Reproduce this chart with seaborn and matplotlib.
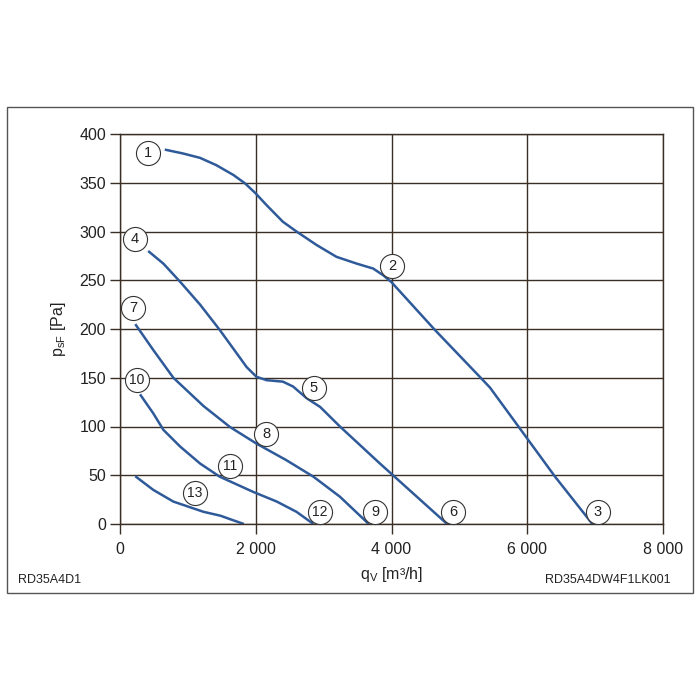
import matplotlib
matplotlib.use("Agg")
import matplotlib.pyplot as plt
import seaborn as sns
import pandas as pd
from matplotlib.patches import Rectangle
from matplotlib.ticker import FuncFormatter

sns.set_theme(style="white")
plt.rcParams['font.family'] = ['Liberation Sans', 'DejaVu Sans']
plt.rcParams['mathtext.fontset'] = 'custom'
plt.rcParams['mathtext.rm'] = 'Liberation Sans'

# --- data ---
curve_a_x = [660, 930, 1180, 1420, 1670, 1840, 2000, 2160, 2400, 2600, 2900, 3190, 3490, 3730, 3880, 4000,
             4640, 5300, 5450, 5870, 6410, 6960]
curve_a_y = [384, 380, 375.5, 368, 358, 349.5, 339, 327, 310, 300, 286, 274, 267, 262, 255, 248,
             199, 151, 140, 100, 48.5, 0]
curve_b_x = [415, 640, 885, 1180, 1470, 1720, 1865, 2010, 2160, 2400, 2550, 2750, 2950, 3240, 3830, 4820]
curve_b_y = [280, 267, 248.5, 225, 199, 175, 161, 151, 147.5, 146, 141, 129, 120, 100, 62, 0]
curve_c_x = [225, 490, 786, 1230, 1620, 2010, 2450, 2850, 3240, 3665]
curve_c_y = [205, 178.5, 150, 121, 99.5, 82.5, 65.5, 48.5, 28, 0]
curve_d_x = [295, 490, 640, 885, 1180, 1470, 1960, 2310, 2600, 2850]
curve_d_y = [133, 113.5, 96.5, 79.5, 62, 48.5, 33, 23, 12.5, 0]
curve_e_x = [225, 490, 786, 1230, 1480, 1620, 1825]
curve_e_y = [49, 35, 23, 12.5, 8.5, 5, 0]

label_text = ["1", "2", "3", "4", "5", "6", "7", "8", "9", "10", "11", "12", "13"]
label_x = [412, 4007, 7042, 221, 2858, 4906, 191, 2151, 3757, 250, 1621, 2947, 1105]
label_y = [380.5, 264.6, 12.3, 292, 139.5, 12.3, 221.5, 92.3, 12.3, 147.7, 59.5, 12.3, 31.8]

x_ticks = [0, 2000, 4000, 6000, 8000]
y_ticks = [0, 50, 100, 150, 200, 250, 300, 350, 400]

frames = []
for name, xs, ys in [("A", curve_a_x, curve_a_y), ("B", curve_b_x, curve_b_y),
                     ("C", curve_c_x, curve_c_y), ("D", curve_d_x, curve_d_y),
                     ("E", curve_e_x, curve_e_y)]:
    frames.append(pd.DataFrame({"q": xs, "p": ys, "curve": name}))
df = pd.concat(frames, ignore_index=True)

fig = plt.figure(figsize=(7, 7), dpi=100)
ax = fig.add_axes([120/700, 1-524/700, 543/700, 390/700])

grid_c = '#3b2e25'
line_c = '#2f5a9a'

sns.lineplot(data=df, x="q", y="p", units="curve", estimator=None, sort=False,
             color=line_c, lw=1.8, ax=ax, legend=False)
for ln in ax.lines:
    ln.set_solid_joinstyle('round')
    ln.set_solid_capstyle('butt')

ax.set_xlim(0, 8000)
ax.set_ylim(0, 400)
ax.set_xticks(x_ticks)
ax.set_yticks(y_ticks)
ax.xaxis.set_major_formatter(FuncFormatter(lambda v, p: f"{int(v):,}".replace(",", " ")))
ax.grid(True, color=grid_c, lw=1.0)
for s in ax.spines.values():
    s.set_color(grid_c)
    s.set_linewidth(1.0)
ax.tick_params(axis='both', which='major', direction='out', length=7, width=1.0,
               color=grid_c, labelsize=11.5, labelcolor='#222222', pad=3,
               left=True, bottom=True)
ax.tick_params(axis='x', pad=6)

ax.set_xlabel(r"q$_\mathregular{V}$ [m³/h]", fontsize=11.5, color='#222222', labelpad=6)
ax.set_ylabel(r"p$_\mathregular{sF}$ [Pa]", fontsize=11.5, color='#222222', labelpad=8)

# circled labels
ax.scatter(label_x, label_y, s=300, facecolor='white', edgecolor='#333333',
           linewidth=0.8, zorder=5, clip_on=False)
for t, lx, ly in zip(label_text, label_x, label_y):
    ax.text(lx, ly, t, ha='center', va='center', fontsize=10.5 if len(t) == 1 else 10,
            color='#222222', zorder=6)

fig.text(18/700, 1-580/700, "RD35A4D1", fontsize=9, color='#222222', ha='left', va='center')
fig.text(671/700, 1-580/700, "RD35A4DW4F1LK001", fontsize=9, color='#222222', ha='right', va='center')

fig.patches.append(Rectangle((7/700, 1-593/700), 686/700, 486/700, transform=fig.transFigure,
                             fill=False, edgecolor='#555555', lw=1.0))

fig.savefig("out.png", dpi=100)
